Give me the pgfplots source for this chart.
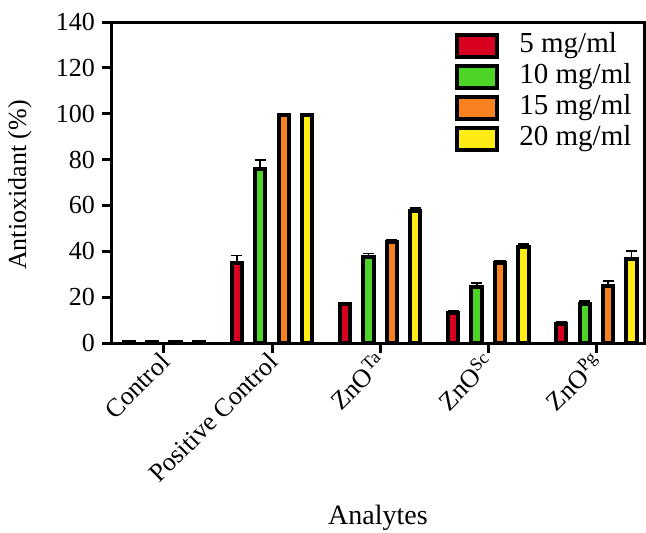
\documentclass[border=0pt]{standalone}
\usepackage{fontspec}
\setmainfont{Liberation Serif}
\usepackage{pgfplots}
\pgfplotsset{compat=1.18}

\definecolor{cRed}{HTML}{D9001F}
\definecolor{cGreen}{HTML}{4CD426}
\definecolor{cOrange}{HTML}{F7801F}
\definecolor{cYellow}{HTML}{FFEC14}

\pgfplotsset{
  barsty/.style={fill=#1, draw=black, line width=2pt, bar width=0.095,
    error bars/y dir=plus, error bars/y explicit,
    error bars/error bar style={line width=0.9pt, black},
    error bars/error mark options={rotate=90, mark size=2.8pt, line width=0.9pt, black}},
}

\begin{document}
\begin{tikzpicture}
\useasboundingbox (-56pt,-94.5pt) rectangle (267pt,171.5pt);
\begin{axis}[
  scale only axis,
  width=266pt, height=160.5pt,
  ybar,
  xmin=-0.48, xmax=4.44,
  ymin=0, ymax=140,
  ytick={0,20,...,140},
  xtick={0,1,2,3,4},
  xticklabels={Control, Positive Control, ZnO\textsuperscript{Ta}, ZnO\textsuperscript{Sc}, ZnO\textsuperscript{Pg}},
  tick pos=left,
  tick align=outside,
  major tick length=5pt,
  axis line style={line width=1.5pt},
  every tick/.style={line width=1.5pt, black},
  /pgf/number format/assume math mode=true,
  tick label style={font=\fontsize{13}{15}\selectfont},
  xticklabel style={rotate=45, anchor=east, inner sep=1pt, yshift=-2pt},
  ylabel={Antioxidant (\%)},
  ylabel style={at={(axis description cs:-0.173,0.492)}, anchor=center, font=\fontsize{13}{15}\selectfont},
  xlabel={Analytes},
  xlabel style={at={(axis description cs:0.5,-0.545)}, anchor=center, font=\fontsize{14}{16}\selectfont},
  legend style={draw=none, fill=none, at={(axis description cs:0.644,0.975)}, anchor=north west,
    inner sep=0pt, row sep=0pt, font=\fontsize{14.5}{16}\selectfont,
    nodes={inner sep=1pt, text height=10pt, text depth=3.5pt},
    /tikz/every odd column/.append style={column sep=9pt}},
  legend cell align=left,
  legend image code/.code={\draw[#1, line width=2.2pt] (0pt,-5.6pt) rectangle (20pt,5.6pt);},
]
\addplot[barsty=cRed, bar shift=-0.325] coordinates {
  (0,0.4) +- (0,0.5)
  (1,35.0) +- (0,3.2)
  (2,16.9) +- (0,0.6)
  (3,13.1) +- (0,0.9)
  (4,8.1) +- (0,1.2)
};
\addplot[barsty=cGreen, bar shift=-0.108] coordinates {
  (0,0.4) +- (0,0.5)
  (1,75.7) +- (0,4.0)
  (2,37.5) +- (0,1.5)
  (3,24.4) +- (0,1.8)
  (4,17.2) +- (0,1.2)
};
\addplot[barsty=cOrange, bar shift=0.108] coordinates {
  (0,0.4) +- (0,0.5)
  (1,99.4) +- (0,0.3)
  (2,44.0) +- (0,1.1)
  (3,35.0) +- (0,0.9)
  (4,24.9) +- (0,2.1)
};
\addplot[barsty=cYellow, bar shift=0.325] coordinates {
  (0,0.4) +- (0,0.5)
  (1,99.4) +- (0,0.3)
  (2,57.4) +- (0,1.6)
  (3,41.9) +- (0,1.4)
  (4,36.5) +- (0,3.6)
};
\legend{5 mg/ml, 10 mg/ml, 15 mg/ml, 20 mg/ml}
\end{axis}
\end{tikzpicture}
\end{document}
